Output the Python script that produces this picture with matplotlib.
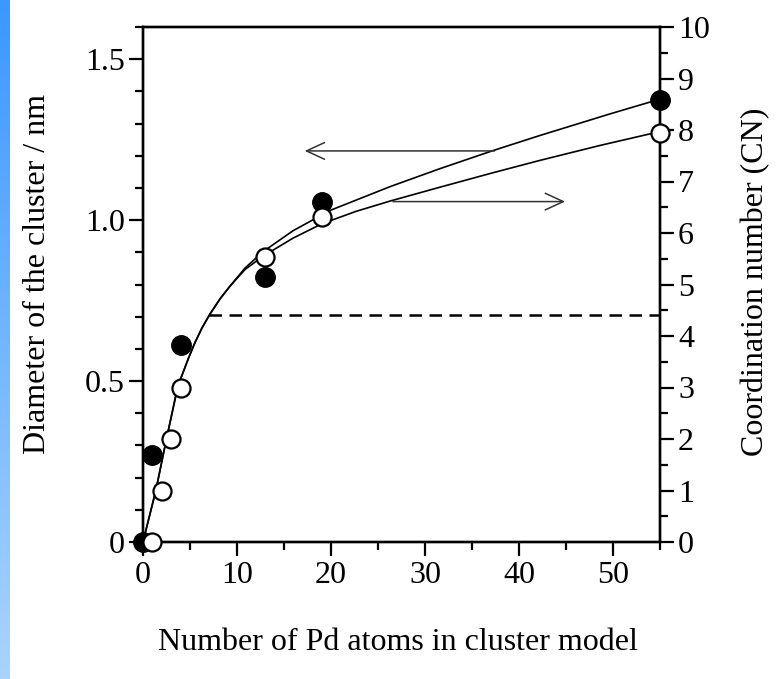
import numpy as np
import matplotlib
matplotlib.use("Agg")
import matplotlib.pyplot as plt
from matplotlib.patches import FancyArrowPatch
from matplotlib.ticker import MultipleLocator, FixedLocator, FixedFormatter

plt.rcParams['font.family'] = ['Liberation Serif', 'DejaVu Serif']

# measured points: cluster diameter (left axis) and coordination number (right axis)
n_diam = [0, 1, 4, 13, 19, 55]
diameter = [0, 0.270, 0.612, 0.824, 1.057, 1.373]

n_cn = [1, 2, 3, 4, 13, 19, 55]
coord_num = [0, 1, 2, 3, 5.54, 6.32, 7.95]

# fitted curves
fit_d_n = [0, 1.38, 2.45, 3.62, 3.94, 4.26, 4.89, 5.53, 6.28, 7.13, 8.19, 9.26,
           10.85, 12.77, 15.96, 19.89, 26.28, 31.60, 37.23, 42.23, 49.68, 55]
fit_d = [0, 0.162, 0.314, 0.472, 0.502, 0.527, 0.575, 0.620, 0.665, 0.708, 0.755, 0.795,
         0.851, 0.902, 0.967, 1.030, 1.104, 1.160, 1.216, 1.263, 1.330, 1.376]

fit_cn_n = [0, 1.38, 2.45, 3.62, 3.94, 4.26, 4.89, 5.53, 6.28, 7.13, 8.19, 9.26,
            10.85, 12.77, 15.96, 19.04, 22.66, 26.28, 31.60, 37.23, 42.23, 48.62, 55]
fit_cn = [0, 1.01, 1.96, 2.95, 3.14, 3.29, 3.59, 3.87, 4.16, 4.43, 4.72, 4.97,
          5.29, 5.55, 5.90, 6.18, 6.42, 6.62, 6.89, 7.17, 7.41, 7.70, 7.97]

# dashed reference level and the two arrows
dash_start, dash_level = 7.0, 0.705
arrow_left = ((37.7, 1.215), (16.9, 1.215))
arrow_right = ((26.3, 6.61), (45.2, 6.61))

W, H = 780, 679
fig = plt.figure(figsize=(W / 100, H / 100), dpi=100, facecolor='white')

# blue strip at the left edge
strip = fig.add_axes([0, 0, 10 / W, 1])
top_c = np.array([0x3a, 0x98, 0xff]) / 255
bot_c = np.array([0xaa, 0xd4, 0xff]) / 255
t = np.linspace(0, 1, 256)[:, None, None]
strip.imshow(top_c * (1 - t) + bot_c * t, aspect='auto', extent=[0, 1, 0, 1])
strip.axis('off')

ax = fig.add_axes([143 / W, 137 / H, 517 / W, 515 / H])
ax2 = ax.twinx()

ax.set_xlim(0, 55)
ax.set_ylim(0, 1.6)
ax2.set_ylim(0, 10)

# left axis: diameter
ax.plot(fit_d_n, fit_d, color='black', lw=1.2, zorder=2, clip_on=False)
ax.plot(n_diam, diameter, 'o', color='black', ms=14, zorder=3, clip_on=False)
ax.hlines(dash_level, dash_start, 55, colors='black', lw=1.8,
          linestyles=(0, (5, 3)), zorder=2)

# right axis: coordination number
ax2.plot(fit_cn_n, fit_cn, color='black', lw=1.2, zorder=2, clip_on=False)
ax2.plot(n_cn, coord_num, 'o', mfc='white', mec='black', mew=1.6, ms=13,
         zorder=3, clip_on=False)

for axis, (tail, head) in ((ax, arrow_left), (ax2, arrow_right)):
    axis.add_patch(FancyArrowPatch(tail, head, arrowstyle='->,head_length=0.65,head_width=0.3',
                                   mutation_scale=20, lw=1.1, color='#333333', zorder=2))

# ticks
ax.xaxis.set_major_locator(MultipleLocator(10))
ax.xaxis.set_minor_locator(MultipleLocator(5))
ax.yaxis.set_major_locator(FixedLocator([0, 0.5, 1.0, 1.5]))
ax.yaxis.set_major_formatter(FixedFormatter(['0', '0.5', '1.0', '1.5']))
ax.yaxis.set_minor_locator(MultipleLocator(0.1))
ax2.yaxis.set_major_locator(MultipleLocator(1))
ax2.yaxis.set_minor_locator(MultipleLocator(0.5))

for a in (ax, ax2):
    a.tick_params(which='major', direction='out', length=10, width=1.6,
                  labelsize=23, pad=3, colors='black')
    a.tick_params(which='minor', direction='out', length=5.5, width=1.6)
    for s in a.spines.values():
        s.set_linewidth(1.7)
ax.tick_params(axis='x', pad=4)

fig.text(398 / W, 1 - 643 / H, 'Number of Pd atoms in cluster model',
         ha='center', va='center', fontsize=23)
fig.text(38 / W, 1 - 274 / H, 'Diameter of the cluster / nm',
         ha='center', va='center', rotation=90, fontsize=23)
fig.text(756 / W, 1 - 282 / H, 'Coordination number (CN)',
         ha='center', va='center', rotation=90, fontsize=23)

fig.savefig('out.png', dpi=100, facecolor='white')
plt.close(fig)
